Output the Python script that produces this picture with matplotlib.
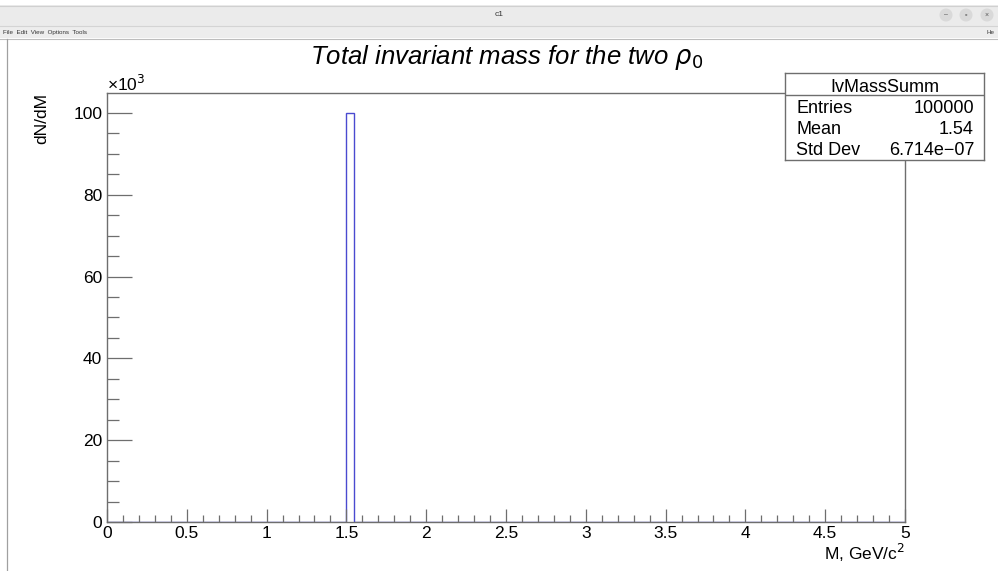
import numpy as np
import matplotlib
matplotlib.use("Agg")
import matplotlib.pyplot as plt
from matplotlib.patches import Rectangle, Circle
from matplotlib.lines import Line2D

plt.rcParams['font.family'] = ['Liberation Sans', 'DejaVu Sans']

# ---- data ----
x_min, x_max, n_bins = 0.0, 5.0, 100
filled_bin_low = 1.5
filled_bin_high = 1.55
filled_bin_count = 100000
y_max = 105000

x_tick_values = [0, 0.5, 1, 1.5, 2, 2.5, 3, 3.5, 4, 4.5, 5]
x_tick_labels = ["0", "0.5", "1", "1.5", "2", "2.5", "3", "3.5", "4", "4.5", "5"]
y_tick_values = [0, 20000, 40000, 60000, 80000, 100000]
y_tick_labels = ["0", "20", "40", "60", "80", "100"]

title = "Total invariant mass for the two $\\rho_{0}$"
x_label = "M, GeV/c$^{2}$"
y_label = "dN/dM"
stats_name = "IvMassSumm"
stats_rows = [("Entries", "100000"), ("Mean", "1.54"), ("Std Dev", "6.714e\u221207")]

W, H = 998, 571
fig = plt.figure(figsize=(W / 100, H / 100), dpi=100)
fig.patch.set_facecolor("white")

def fx(px):
    return px / W

def fy(py):
    return 1 - py / H

# ---- window chrome ----
chrome = fig.add_axes([0, 0, 1, 1], zorder=-5)
chrome.set_xlim(0, W)
chrome.set_ylim(H, 0)
chrome.axis("off")
chrome.add_patch(Rectangle((0, 5), W, 21, facecolor="#ebebeb", edgecolor="none"))
chrome.add_line(Line2D([0, W], [5.5, 5.5], color="#d0d0d0", lw=0.8))
chrome.add_line(Line2D([0, W], [25.5, 25.5], color="#d4d4d4", lw=0.8))
chrome.add_patch(Rectangle((0, 26), W, 12, facecolor="#ededed", edgecolor="none"))
chrome.add_line(Line2D([0, W], [38.5, 38.5], color="#bdbdbd", lw=0.8))
chrome.add_line(Line2D([7.5, 7.5], [39, H], color="#a0a0a0", lw=0.9))
chrome.text(499, 14, "c1", ha="center", va="center", fontsize=6, color="#333333")
chrome.text(3, 32.5, "File  Edit  View  Options  Tools", ha="left", va="center",
            fontsize=4.5, color="#333333")
chrome.text(987, 32.5, "He", ha="left", va="center", fontsize=4.5, color="#333333")
for cx, sym in [(946, "\u2013"), (966, "\u25ab"), (987, "\u00d7")]:
    chrome.add_patch(Circle((cx, 15), 6.5, facecolor="#d9d9d9", edgecolor="none"))
    chrome.text(cx, 15, sym, ha="center", va="center", fontsize=5, color="#555555")

# ---- main axes ----
ax_l, ax_r, ax_t, ax_b = 107, 905, 92.5, 522
ax = fig.add_axes([fx(ax_l), fy(ax_b), fx(ax_r - ax_l), (ax_b - ax_t) / H])
ax.set_xlim(x_min, x_max)
ax.set_ylim(0, y_max)

edges = np.linspace(x_min, x_max, n_bins + 1)
counts = np.zeros(n_bins)
counts[np.searchsorted(edges, filled_bin_low + 1e-9) - 1] = filled_bin_count
ax.stairs(counts, edges, color="#4a4ad0", lw=1.0)

axis_col = "#6e6e6e"
for s in ax.spines.values():
    s.set_color(axis_col)
    s.set_linewidth(1.0)

ax.set_xticks(x_tick_values)
ax.set_xticklabels(x_tick_labels)
ax.set_xticks(np.arange(0, 5.0001, 0.1), minor=True)
ax.set_yticks(y_tick_values)
ax.set_yticklabels(y_tick_labels)
ax.set_yticks(np.arange(0, 105000, 5000), minor=True)

ax.tick_params(axis="x", which="major", direction="in", length=9.5, width=0.9,
               color=axis_col, labelsize=12.5, pad=3)
ax.tick_params(axis="x", which="minor", direction="in", length=4.7, width=0.9,
               color=axis_col)
ax.tick_params(axis="y", which="major", direction="in", length=18, width=0.9,
               color=axis_col, labelsize=12.5, pad=3.5)
ax.tick_params(axis="y", which="minor", direction="in", length=8.7, width=0.9,
               color=axis_col)
ax.tick_params(top=False, right=False, which="both")

fig.text(fx(107), fy(91), "\u00d710$^{3}$", ha="left", va="baseline", fontsize=12.5)

# axis titles
fig.text(fx(905), fy(560), x_label, ha="right", va="baseline", fontsize=12.5)
fig.text(fx(34), fy(93), y_label, ha="right", va="top", rotation=90, fontsize=12.5,
         rotation_mode="anchor")

# title
fig.text(fx(507), fy(64), title, ha="center", va="baseline", fontsize=18.5,
         style="italic")

# ---- stats box ----
bx_l, bx_r, bx_t, bx_sep, bx_b = 785, 984, 73, 95, 160
sb = fig.add_axes([fx(bx_l), fy(bx_b), fx(bx_r - bx_l), (bx_b - bx_t) / H], zorder=5)
sb.set_xlim(bx_l, bx_r)
sb.set_ylim(bx_b, bx_t)
sb.set_xticks([])
sb.set_yticks([])
sb.set_facecolor("white")
for s in sb.spines.values():
    s.set_color(axis_col)
    s.set_linewidth(1.0)
sb.add_line(Line2D([bx_l, bx_r], [bx_sep, bx_sep], color=axis_col, lw=1.0))
sb.text((bx_l + bx_r) / 2, 92, stats_name, ha="center", va="baseline", fontsize=13)
for i, (k, v) in enumerate(stats_rows):
    yb = 113 + 21 * i
    sb.text(796, yb, k, ha="left", va="baseline", fontsize=13)
    sb.text(974, yb, v, ha="right", va="baseline", fontsize=13)

fig.savefig("out.png", dpi=100)
